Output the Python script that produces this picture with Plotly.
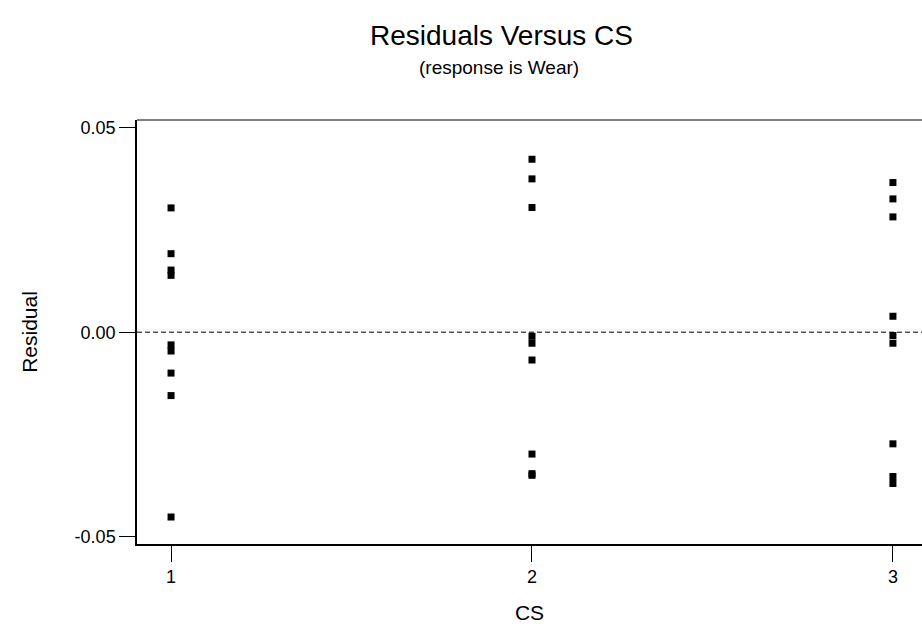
import plotly.graph_objects as go

cs_levels = [1, 2, 3]
tick_vals_y = [-0.05, 0.0, 0.05]
tick_text_y = ["-0.05", "0.00", "0.05"]

cs1_resid = [0.0304, 0.0192, 0.0152, 0.0139, -0.0031, -0.0046, -0.0100, -0.0155, -0.0452]
cs2_resid = [0.0423, 0.0375, 0.0305, -0.0010, -0.0027, -0.0068, -0.0298, -0.0346, -0.0350]
cs3_resid = [0.0366, 0.0326, 0.0282, 0.0039, -0.0008, -0.0027, -0.0273, -0.0353, -0.0370]

x = [1] * len(cs1_resid) + [2] * len(cs2_resid) + [3] * len(cs3_resid)
y = cs1_resid + cs2_resid + cs3_resid

FONT = "Liberation Sans, Arial, Helvetica, sans-serif"

L, T, B = 137, 120, 80
W, H = 922, 624
PW, PH = W - L, H - T - B

fig = go.Figure()
fig.add_trace(go.Scatter(
    x=x, y=y, mode="markers",
    marker=dict(symbol="square", size=7, color="black"),
    cliponaxis=False, showlegend=False,
))
fig.add_hline(y=0, line=dict(color="black", width=1, dash="5px,3px"))
# thin top border
fig.add_shape(type="line", xref="paper", yref="paper", x0=0, x1=1, y0=1, y1=1,
              line=dict(color="black", width=1))

fig.update_layout(
    width=W, height=H,
    margin=dict(l=L, r=0, t=T, b=B),
    paper_bgcolor="white", plot_bgcolor="white",
    font=dict(family=FONT, color="black", size=18),
)
fig.add_annotation(text="Residuals Versus CS", xref="paper", yref="paper",
                   x=(501 - L) / PW, y=(H - B - 35) / PH, xanchor="center", yanchor="middle",
                   showarrow=False, font=dict(size=28))
fig.add_annotation(text="(response is Wear)", xref="paper", yref="paper",
                   x=(499 - L) / PW, y=(H - B - 67) / PH, xanchor="center", yanchor="middle",
                   showarrow=False, font=dict(size=19))

fig.update_xaxes(
    range=[0.9057, 3.0805], tickvals=cs_levels, ticktext=[str(v) for v in cs_levels],
    showgrid=False, zeroline=False, showline=True, linecolor="black", linewidth=1.5,
    ticks="outside", ticklen=16, tickwidth=1, tickcolor="black",
    title=dict(text="CS", font=dict(size=21), standoff=20),
)
fig.update_yaxes(
    range=[-0.0518, 0.0519], tickvals=tick_vals_y, ticktext=tick_text_y,
    showgrid=False, zeroline=False, showline=True, linecolor="black", linewidth=1.5,
    ticks="outside", ticklen=16, tickwidth=1, tickcolor="black",
    title=dict(text="Residual", font=dict(size=21), standoff=31),
)

fig.write_html("out.html")
